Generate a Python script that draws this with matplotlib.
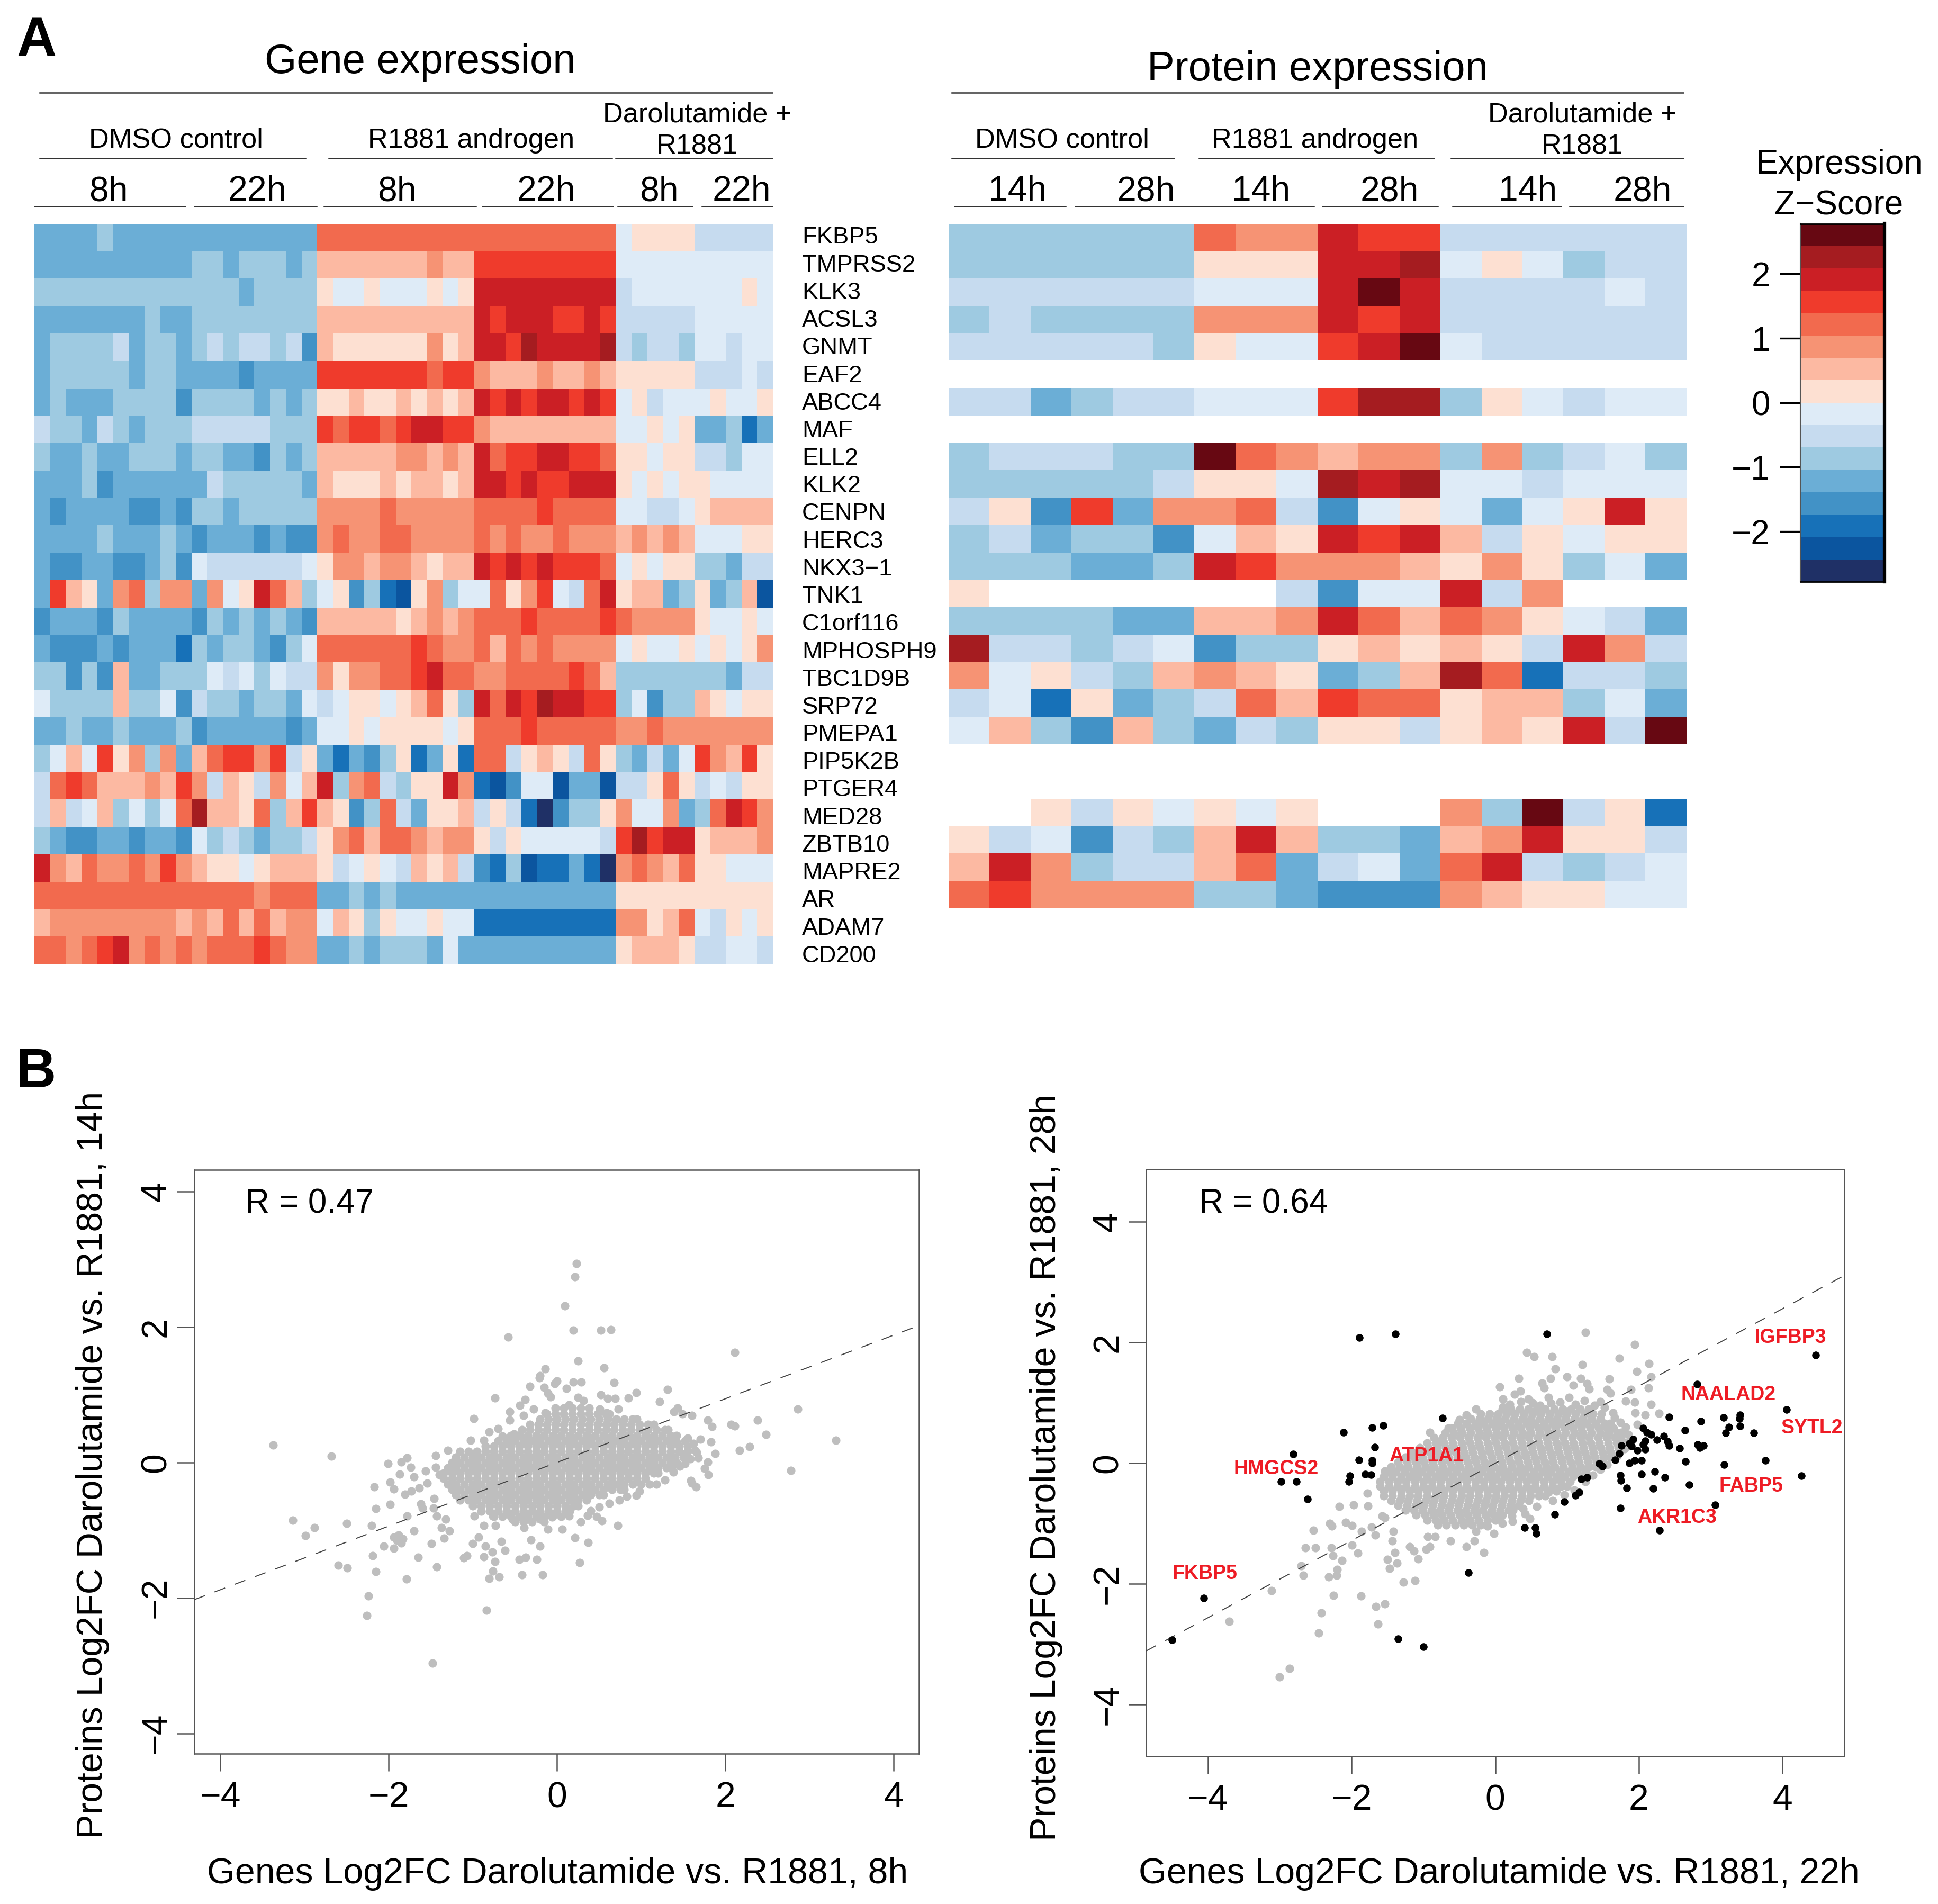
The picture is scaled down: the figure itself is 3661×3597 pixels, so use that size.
# coding=utf-8
# Heatmaps of gene / protein expression and the two log2FC scatter plots

import numpy as np
import matplotlib
matplotlib.use('Agg')
import matplotlib.pyplot as plt
from matplotlib.colors import ListedColormap, BoundaryNorm

plt.rcParams['font.family'] = ['Liberation Sans', 'DejaVu Sans']

W = 3661
H = 3597

palette = ['#1f3066', '#0b559f', '#1771b8', '#4292c6', '#6baed6', '#9ecae1', '#c6dbef', '#deebf7',
           '#fde0d2', '#fcb9a2', '#f69374', '#f26a4e', '#ef3b2c', '#cb1f25', '#a51c20', '#670812']

genes = ['FKBP5', 'TMPRSS2', 'KLK3', 'ACSL3', 'GNMT', 'EAF2', 'ABCC4', 'MAF', 'ELL2', 'KLK2', 'CENPN',
         'HERC3', 'NKX3\u22121', 'TNK1', 'C1orf116', 'MPHOSPH9', 'TBC1D9B', 'SRP72', 'PMEPA1', 'PIP5K2B',
         'PTGER4', 'MED28', 'ZBTB10', 'MAPRE2', 'AR', 'ADAM7', 'CD200']

# palette level of every cell, 0-f, '.' is a missing value
gene_levels = [
    '444454444444444444 bbbbbbbbbbbbbbbbbbb 7888866666',
    '444444444455455545 9999999a99ccccccccc 7777777777',
    '555555555555545555 8778777878ddddddddd 6777777787',
    '444444454455555555 9999999999dcdddccdc 6666677777',
    '455556455456566563 9888888a89ddcedddde 6566577677',
    '455555455444434444 cccccccbcca999a99a9 8888866676',
    '454445555355554545 8898898989dcdcddcdc 7867778778',
    '655465455566666555 cbccbcddcca99999999 7787844524',
    '544544555455443545 99999aa9a9dbccddccb 8878866577',
    '444534444446555554 9888989989ddcdccddd 8787887777',
    '434444334355455555 aaaabaaaaabbbbcbbbb 7766789999',
    '444454445434443433 abaabbaaaababaabaaa 9a9a977788',
    '433443345376666667 8aa9aa9899dcdcdcccb 7878855466',
    '4c984ab5aa4a78db95 7835218a577b8ac76bd 8994584591',
    '344435444435454543 9999989a9abbbcbbbbc baaaa87787',
    '433343444254554357 bbbbbbcbaab9babaaaa 787787878a',
    '553539445557675766 a8aabbcdbbaabbbbcb9 5555555466',
    '755559557365545547 6788789b85dbdceddcc 5735598788',
    '445445444534444434 7787888878bbbcbbbbb aabaaaaaaa',
    '5797c8a5a49bccac68 4243582482bb68986b8 54647ca9c8',
    '6bcb999a9ca6986a79 d5ab6588da213771441 668b867688',
    '696795757be998b59c 9835b64889686203558 a77a45bdca',
    '543344344375654556 8ab9bba9aa868777776 cecdd8999a',
    'da9baabaca98878999 8678769896325122420 aba9b88777',
    'bbbbbbbbbbbbbbabbb 4454544444444444444 8888888888',
    '9aaaaaaaa9a9b9b9aa 7985877877222222222 aa89b76878',
    'bbabcdabababbbcbaa 4454555474444444444 8999866776',
]

protein_levels = [
    '555555 baa dcc 666666',
    '555555 888 dde 787566',
    '666666 777 dfd 666676',
    '565555 aaa dcd 666666',
    '666665 877 cdf 766666',
    '...... ... ... ......',
    '664566 777 cee 587677',
    '...... ... ... ......',
    '566655 fba 9aa 5a5675',
    '555556 887 ede 776777',
    '683c4a ab6 378 747 8d8',
    '564553 798 dcd 968788',
    '555445 dca aa9 8a8574',
    '8..... ..6 377 d6a...',
    '555544 99a db9 ba8764',
    'e66567 355 898 986da6',
    'a78659 a98 459 eb2665',
    '672845 6b9 cbb 899574',
    '795395 465 886 898d6f',
    '...... ... ... ......',
    '...... ... ... ......',
    '..8687 878 ... a5f682',
    '867365 9d9 554 9ad886',
    '9da566 9b4 674 bd6567',
    'bcaaaa 554 333 a98877',
]

dmso_r1881_dar = ['DMSO control', 'R1881 androgen', 'Darolutamide +\nR1881']
colorbar_ticks = [2, 1, 0, -1, -2]
axis_ticks = [-4, -2, 0, 2, 4]

# panel B left, grey points read one by one: (genes, proteins)
left_outliers = [
    (.23, 2.94), (.21, 2.74), (.09, 2.31), (.19, 1.95), (.52, 1.95), (.64, 1.96), (-.58, 1.85), (2.11, 1.62),
    (.25, 1.50), (.56, 1.40), (-.14, 1.38), (-.20, 1.28), (-.21, 1.25), (0, 1.2), (-.03, 1.16), (.19, 1.19),
    (.29, 1.19), (.68, 1.18), (-.32, 1.12), (.11, 1.09), (1.31, 1.08), (-.15, 1.11), (.94, 1.03), (-.11, 1.02),
    (-.08, .97), (-.74, .95), (.85, .95), (.52, 1.0), (.60, .94), (.69, .94), (1.22, .90), (-.38, .93),
    (-.44, .84), (-.56, .75), (-.28, .79), (1.43, .80), (1.39, .75), (1.49, .72), (1.60, .69), (-.99, .65),
    (-.56, .62), (-.40, .69), (1.79, .62), (1.84, .53), (2.07, .56), (2.11, .54), (2.38, .62), (2.86, .79),
    (2.48, .41), (3.31, .33), (2.29, .23), (2.17, .18), (2.78, -.12), (1.83, .30), (1.88, .13), (1.66, .15),
    (1.79, .01), (1.75, -.09), (1.80, -.18), (1.59, -.27), (1.65, -.36), (1.60, -.31), (1.10, -.32),
    (.94, -.49), (.83, -.50), (.72, -.93), (.53, -.86), (.47, -.80), (.40, -.71), (.37, -1.18), (.21, -1.11),
    (.27, -1.48), (-.17, -1.66), (-.42, -1.66), (-.69, -1.69), (-.81, -1.71), (-.76, -1.60), (-.74, -1.46),
    (-.84, -2.18), (-1.48, -2.96), (-.45, -1.43), (-.37, -1.40), (-.24, -1.43), (-.20, -1.24), (-.31, -1.14),
    (-.62, -1.30), (-.77, -1.32), (-.87, -1.39), (-1.11, -1.41), (-1.07, -1.38), (-.85, -1.24), (-1.0, -1.20),
    (-.93, -1.10), (-.66, -1.17), (-1.43, -1.54), (-1.79, -1.72), (-2.15, -1.61), (-2.19, -1.38), (-2.24, -1.97),
    (-2.26, -2.26), (-2.49, -1.56), (-2.60, -1.52), (-2.06, -1.24), (-1.94, -1.27), (-1.65, -1.40), (-1.49, -1.20),
    (-1.34, -1.12), (-1.94, -1.10), (-1.88, -1.07), (-1.83, -1.13), (-1.85, -1.19), (-1.90, -1.15), (-1.70, -1.01),
    (-2.99, -1.08), (-2.88, -.96), (-3.14, -.85), (-2.50, -.90), (-2.20, -.93), (-2.15, -.68), (-1.98, -.62),
    (-2.17, -.36), (-1.94, -.39), (-1.81, -.47), (-1.98, -.29), (-1.87, -.17), (-2.01, -.02), (-1.85, .01),
    (-1.78, .07), (-1.74, -.07), (-1.70, -.21), (-1.73, -.42), (-1.64, -.38), (-1.54, -.31), (-1.56, -.13),
    (-1.44, .10), (-1.30, .18), (-1.44, -.07), (-1.40, -.18), (-3.37, .26), (-2.68, .09), (-1.78, -.79),
    (-1.62, -.61), (-1.46, -.53), (-1.47, -.67), (-1.43, -.79), (-1.32, -.84), (-1.37, -.96), (-1.28, -1.01),
    (-1.60, -.67), (-.98, -.79), (-.87, -.93), (-.73, -.93), (-.53, -.84), (-.39, -.96), (-.20, -.84), (-.11, -.99),
    (.06, -.99), (.14, -.79), (-.06, -.81), (-.37, -.79), (-.76, -.79), (.25, .96), (.14, .85), (.31, .91),
    (.51, .79), (.59, .73), (.73, .79), (-.14, .73), (-.81, .45), (-.70, .50), (-.87, .33), (-1.03, .33),
    (-.51, .42), (-.65, .39), (-1.15, .16), (-.98, .13),
    (1.42, .30), (1.55, .36), (1.62, .28), (1.50, .12), (1.58, .05), (1.46, -.06), (1.38, -.14), (1.52, -.02),
    (1.28, -.26), (1.18, -.32), (1.64, .18), (1.70, .34), (1.36, -.08), (1.68, .07), (.98, -.42), (.74, -.56),
    (.62, -.60), (.50, -.66), (.36, -.78), (.28, -.88),
]

# dense part of the left cloud, estimated along rows: (proteins, [genes])
left_core = [
    (.80, [-.02, .08, .18, .28, .38]),
    (.72, [-.12, -.02, .08, .18, .28, .38, .48, .58, .62]),
    (.64, [-.20, -.10, 0, .10, .20, .30, .40, .50, .60, .70, .80, .90, .95]),
    (.56, [-.32, -.22, -.12, -.02, .08, .18, .28, .38, .48, .58, .68, .78, .88, .98, 1.08, 1.15]),
    (.48, [-.42, -.32, -.22, -.12, -.02, .08, .18, .28, .38, .48, .58, .68, .78, .88, .98, 1.08, 1.18, 1.28, 1.32]),
    (.40, [-.55, -.45, -.35, -.25, -.15, -.05, .05, .15, .25, .35, .45, .55, .65, .75, .85, .95, 1.05, 1.15, 1.25, 1.35, 1.42]),
    (.32, [-.70, -.60, -.50, -.40, -.30, -.20, -.10, 0, .10, .20, .30, .40, .50, .60, .70, .80, .90, 1.00, 1.10, 1.20, 1.30, 1.40, 1.52]),
    (.24, [-.85, -.75, -.65, -.55, -.45, -.35, -.25, -.15, -.05, .05, .15, .25, .35, .45, .55, .65, .75, .85, .95, 1.05, 1.15, 1.25, 1.35, 1.45, 1.55]),
    (.16, [-1.05, -.95, -.85, -.75, -.65, -.55, -.45, -.35, -.25, -.15, -.05, .05, .15, .25, .35, .45, .55, .65, .75, .85, .95, 1.05, 1.15, 1.25, 1.35, 1.45, 1.55]),
    (.08, [-1.20, -1.10, -1.00, -.90, -.80, -.70, -.60, -.50, -.40, -.30, -.20, -.10, 0, .10, .20, .30, .40, .50, .60, .70, .80, .90, 1.00, 1.10, 1.20, 1.30, 1.40, 1.50]),
    (0, [-1.25, -1.15, -1.05, -.95, -.85, -.75, -.65, -.55, -.45, -.35, -.25, -.15, -.05, .05, .15, .25, .35, .45, .55, .65, .75, .85, .95, 1.05, 1.15, 1.25, 1.35, 1.42]),
    (-.08, [-1.30, -1.20, -1.10, -1.00, -.90, -.80, -.70, -.60, -.50, -.40, -.30, -.20, -.10, 0, .10, .20, .30, .40, .50, .60, .70, .80, .90, 1.00, 1.10, 1.20, 1.30]),
    (-.16, [-1.35, -1.25, -1.15, -1.05, -.95, -.85, -.75, -.65, -.55, -.45, -.35, -.25, -.15, -.05, .05, .15, .25, .35, .45, .55, .65, .75, .85, .95, 1.05, 1.15, 1.20]),
    (-.24, [-1.35, -1.25, -1.15, -1.05, -.95, -.85, -.75, -.65, -.55, -.45, -.35, -.25, -.15, -.05, .05, .15, .25, .35, .45, .55, .65, .75, .85, .95, 1.05]),
    (-.32, [-1.30, -1.20, -1.10, -1.00, -.90, -.80, -.70, -.60, -.50, -.40, -.30, -.20, -.10, 0, .10, .20, .30, .40, .50, .60, .70, .80, .90, 1.00]),
    (-.40, [-1.25, -1.15, -1.05, -.95, -.85, -.75, -.65, -.55, -.45, -.35, -.25, -.15, -.05, .05, .15, .25, .35, .45, .55, .65, .75, .80]),
    (-.48, [-1.20, -1.10, -1.00, -.90, -.80, -.70, -.60, -.50, -.40, -.30, -.20, -.10, 0, .10, .20, .30, .40, .50, .55]),
    (-.56, [-1.15, -1.05, -.95, -.85, -.75, -.65, -.55, -.45, -.35, -.25, -.15, -.05, .05, .15, .25, .35]),
    (-.64, [-1.00, -.90, -.80, -.70, -.60, -.50, -.40, -.30, -.20, -.10, 0, .10, .20, .25]),
    (-.72, [-.90, -.80, -.70, -.60, -.50, -.40, -.30, -.20, -.10, 0, .10, .15]),
    (-.80, [-.75, -.65, -.55, -.45, -.35, -.25, -.15, -.05, .05]),
    (-.88, [-.50, -.40, -.30, -.15]),
]

# panel B right, grey points read one by one
right_outliers = [
    (1.26, 2.17), (1.94, 1.97), (.44, 1.84), (.54, 1.77), (.79, 1.77), (1.73, 1.74), (2.14, 1.65), (1.21, 1.63),
    (1.97, 1.52), (.84, 1.56), (.33, 1.41), (.06, 1.27), (.65, 1.33), (.77, 1.41), (1.0, 1.43), (1.19, 1.41),
    (1.59, 1.40), (2.17, 1.43), (2.13, 1.25), (1.89, 1.22), (1.56, 1.22), (1.60, 1.16), (.35, 1.20), (.27, 1.14),
    (.68, 1.25), (1.09, 1.29), (1.28, 1.32), (1.31, 1.23), (1.82, 1.03), (1.94, 1.01), (2.17, .98), (1.64, .84),
    (1.95, .84), (2.09, .80), (2.28, .83), (1.98, .64), (1.76, .51), (1.85, .48), (.11, 1.06), (.46, 1.06),
    (.74, 1.09), (1.03, 1.09), (-.27, .90), (-.40, .80), (.11, .93), (-.50, .72), (-.65, .58), (-.91, .51),
    (-.78, .35), (1.38, .96), (-1.54, -.13), (-1.78, -.50), (-2.17, -.72), (-1.97, -.69), (-1.77, -.71),
    (-2.30, -1.0), (-2.27, -1.04), (-2.08, -.98), (-1.99, -1.03), (-1.86, -1.13), (-2.53, -1.11), (-1.72, -1.06),
    (-1.67, -1.19), (-1.57, -.87), (-1.54, -.90), (-1.42, -1.13), (-1.43, -1.29), (-2.64, -1.40), (-2.50, -1.40),
    (-2.28, -1.40), (-1.99, -1.36), (-1.91, -1.49), (-2.26, -1.53), (-2.13, -1.61), (-2.20, -1.76), (-2.70, -1.70),
    (-2.67, -1.86), (-2.32, -1.88), (-2.21, -1.86), (-3.11, -2.11), (-3.70, -2.62), (-2.25, -2.19), (-1.87, -2.20),
    (-2.42, -2.48), (-1.66, -2.37), (-1.54, -2.33), (-1.63, -2.66), (-2.46, -2.81), (-2.86, -3.40), (-3.00, -3.54),
    (-1.40, -1.48), (-1.50, -1.59), (-1.37, -1.65), (-1.47, -1.74), (-1.19, -1.38), (-1.13, -1.45), (-1.07, -1.58),
    (-.96, -1.43), (-.91, -1.38), (-1.28, -1.97), (-1.12, -1.94), (-.94, -1.22), (-.84, -1.22), (-.62, -1.29),
    (-.40, -1.38), (-.29, -1.29), (-.16, -1.48), (-.27, -1.13), (-.02, -1.16), (-.11, -1.04), (.08, -.89),
    (.23, -.87), (.48, -.92), (.39, -.75), (.74, -.48),
    (.20, .98), (.36, 1.02), (.52, 1.00), (.62, .96), (.78, .99), (.90, 1.01), (1.12, .98), (1.24, 1.04),
    (1.46, 1.02), (1.52, .92), (1.66, .76), (1.74, .68), (1.82, .60), (1.88, .40), (1.80, .24), (1.70, .12),
    (1.56, -.02), (1.46, -.10), (1.36, -.20), (1.26, -.30), (1.10, -.44), (.96, -.52), (.80, -.62), (.58, -.72),
    (.42, -.84), (.24, -.96), (.10, -1.00),
]

# dense part of the right cloud, estimated along rows
right_core = [
    (.90, [.10, .22, .34, .46, .58, .70, .82, .94, 1.06, 1.18, 1.30]),
    (.82, [-.20, -.08, .04, .16, .28, .40, .52, .64, .76, .88, 1.00, 1.12, 1.24, 1.36, 1.48]),
    (.74, [-.34, -.22, -.10, .02, .14, .26, .38, .50, .62, .74, .86, .98, 1.10, 1.22, 1.34, 1.46]),
    (.66, [-.52, -.40, -.28, -.16, -.04, .08, .20, .32, .44, .56, .68, .80, .92, 1.04, 1.16, 1.28, 1.40, 1.52, 1.60]),
    (.58, [-.60, -.48, -.36, -.24, -.12, 0, .12, .24, .36, .48, .60, .72, .84, .96, 1.08, 1.20, 1.32, 1.44, 1.56, 1.65]),
    (.50, [-.70, -.58, -.46, -.34, -.22, -.10, .02, .14, .26, .38, .50, .62, .74, .86, .98, 1.10, 1.22, 1.34, 1.46, 1.58, 1.70]),
    (.42, [-.85, -.73, -.61, -.49, -.37, -.25, -.13, -.01, .11, .23, .35, .47, .59, .71, .83, .95, 1.07, 1.19, 1.31, 1.43, 1.55, 1.67, 1.75]),
    (.34, [-.95, -.83, -.71, -.59, -.47, -.35, -.23, -.11, .01, .13, .25, .37, .49, .61, .73, .85, .97, 1.09, 1.21, 1.33, 1.45, 1.57, 1.69, 1.80]),
    (.26, [-1.05, -.93, -.81, -.69, -.57, -.45, -.33, -.21, -.09, .03, .15, .27, .39, .51, .63, .75, .87, .99, 1.11, 1.23, 1.35, 1.47, 1.59, 1.71]),
    (.18, [-1.15, -1.03, -.91, -.79, -.67, -.55, -.43, -.31, -.19, -.07, .05, .17, .29, .41, .53, .65, .77, .89, 1.01, 1.13, 1.25, 1.37, 1.49, 1.61]),
    (.10, [-1.25, -1.13, -1.01, -.89, -.77, -.65, -.53, -.41, -.29, -.17, -.05, .07, .19, .31, .43, .55, .67, .79, .91, 1.03, 1.15, 1.27, 1.39, 1.51, 1.60]),
    (.02, [-1.35, -1.23, -1.11, -.99, -.87, -.75, -.63, -.51, -.39, -.27, -.15, -.03, .09, .21, .33, .45, .57, .69, .81, .93, 1.05, 1.17, 1.29, 1.41, 1.50]),
    (-.06, [-1.45, -1.33, -1.21, -1.09, -.97, -.85, -.73, -.61, -.49, -.37, -.25, -.13, -.01, .11, .23, .35, .47, .59, .71, .83, .95, 1.07, 1.19, 1.31, 1.40]),
    (-.14, [-1.50, -1.38, -1.26, -1.14, -1.02, -.90, -.78, -.66, -.54, -.42, -.30, -.18, -.06, .06, .18, .30, .42, .54, .66, .78, .90, 1.02, 1.14, 1.26]),
    (-.22, [-1.55, -1.43, -1.31, -1.19, -1.07, -.95, -.83, -.71, -.59, -.47, -.35, -.23, -.11, .01, .13, .25, .37, .49, .61, .73, .85, .97, 1.09, 1.20]),
    (-.30, [-1.60, -1.48, -1.36, -1.24, -1.12, -1.00, -.88, -.76, -.64, -.52, -.40, -.28, -.16, -.04, .08, .20, .32, .44, .56, .68, .80, .92, 1.04]),
    (-.38, [-1.60, -1.48, -1.36, -1.24, -1.12, -1.00, -.88, -.76, -.64, -.52, -.40, -.28, -.16, -.04, .08, .20, .32, .44, .56, .68, .80, .92, 1.00]),
    (-.46, [-1.55, -1.43, -1.31, -1.19, -1.07, -.95, -.83, -.71, -.59, -.47, -.35, -.23, -.11, .01, .13, .25, .37, .49, .61, .73, .85]),
    (-.54, [-1.55, -1.43, -1.31, -1.19, -1.07, -.95, -.83, -.71, -.59, -.47, -.35, -.23, -.11, .01, .13, .25, .37, .49, .61, .70]),
    (-.62, [-1.45, -1.33, -1.21, -1.09, -.97, -.85, -.73, -.61, -.49, -.37, -.25, -.13, -.01, .11, .23, .35, .47]),
    (-.70, [-1.35, -1.23, -1.11, -.99, -.87, -.75, -.63, -.51, -.39, -.27, -.15, -.03, .09, .21, .33]),
    (-.78, [-1.25, -1.13, -1.01, -.89, -.77, -.65, -.53, -.41, -.29, -.17, -.05, .07, .19, .25]),
    (-.86, [-1.10, -.98, -.86, -.74, -.62, -.50, -.38, -.26, -.14, -.02, .10]),
    (-.94, [-.95, -.83, -.71, -.59, -.47, -.35, -.23, -.11, 0]),
    (-1.02, [-.80, -.68, -.56, -.44, -.32, -.20]),
]

# black points of the right panel
right_black = [
    (-1.89, 2.08), (-1.39, 2.14), (.72, 2.14), (2.81, 1.31), (4.46, 1.79), (4.06, .89), (2.42, .77), (2.86, .70),
    (3.18, .76), (3.41, .80), (3.40, .74), (3.41, .62), (3.25, .60), (3.21, .50), (3.60, .50), (2.64, .55),
    (2.42, .29), (2.57, .25), (2.82, .31), (2.85, .26), (2.90, .29), (2.35, .45), (2.40, .36), (2.25, .39),
    (2.17, .48), (2.11, .51), (2.06, .58), (2.09, .37), (2.06, .31), (2.09, .23), (1.92, .40), (1.87, .33),
    (1.76, .29), (1.90, .28), (1.98, .21), (1.73, .16), (1.67, .06), (1.94, .05), (1.87, 0), (2.04, .05),
    (2.65, .03), (3.19, -.02), (3.76, .05), (4.26, -.21), (2.04, -.18), (2.22, -.14), (2.36, -.23), (2.70, -.36),
    (2.20, -.42), (1.83, -.41), (1.75, -.29), (1.74, -.20), (3.06, -.69), (1.74, -.74), (2.29, -1.11), (1.49, -.05),
    (1.45, -.01), (1.28, -.23), (1.20, -.26), (1.17, -.48), (1.12, -.53), (.96, -.64), (.83, -.85), (.41, -1.07),
    (.56, -1.07), (.57, -1.16), (-.37, -1.81), (-1.35, -2.91), (-1.0, -3.04), (-4.06, -2.23), (-4.50, -2.93),
    (-.73, .75), (-1.56, .63), (-1.71, .59), (-2.11, .51), (-1.68, .27), (-1.90, .06), (-1.71, .05), (-1.71, 0),
    (-2.81, .15), (-2.98, -.30), (-2.77, -.30), (-2.61, -.59), (-2.02, -.21), (-2.04, -.30), (-1.81, -.18), (-1.73, -.19),
]

label_names = ['IGFBP3', 'NAALAD2', 'SYTL2', 'FABP5', 'AKR1C3', 'ATP1A1', 'HMGCS2', 'FKBP5']
label_x = [4.11, 3.25, 4.41, 3.56, 2.53, -.96, -3.05, -4.04]
label_y = [2.08, 1.13, .58, -.38, -.90, .12, -.09, -1.83]

r_left = 0.47
r_right = 0.64


def add_axes(fig, left, top, right, bottom):
    return fig.add_axes([left / W, 1 - bottom / H, (right - left) / W, (bottom - top) / H])


def to_matrix(rows):
    m = []
    for row in rows:
        cells = row.replace(' ', '')
        m.append([np.nan if c == '.' else int(c, 16) for c in cells])
    return np.array(m, dtype=float)


def draw_heatmap(fig, rows, left, top, right, bottom, cmap, norm):
    ax = add_axes(fig, left, top, right, bottom)
    ax.imshow(to_matrix(rows), cmap=cmap, norm=norm, aspect='auto', interpolation='nearest')
    ax.axis('off')
    return ax


def expand(outliers, core):
    xs = [p[0] for p in outliers]
    ys = [p[1] for p in outliers]
    for y, row in core:
        xs.extend(row)
        ys.extend([y] * len(row))
    return xs, ys


def draw_scatter(fig, box, xs, ys, slope, xlim, ylim):
    ax = add_axes(fig, *box)
    ax.scatter(xs, ys, s=135, color='#bebebe', linewidths=0, zorder=2)
    ax.axline((0, 0), slope=slope, color='#444444', lw=1.4, dashes=(11, 10), zorder=3)
    ax.set_xlim(xlim)
    ax.set_ylim(ylim)
    ax.set_xticks(axis_ticks)
    ax.set_yticks(axis_ticks)
    ax.tick_params(length=24, width=1.8, color='#555555', labelsize=49)
    ax.tick_params(axis='x', pad=13)
    ax.tick_params(axis='y', pad=5)
    for lab in ax.get_yticklabels():
        lab.set_rotation(90)
        lab.set_va('center')
    for sp in ax.spines.values():
        sp.set_color('#555555')
        sp.set_linewidth(1.8)
    return ax


def main():
    fig = plt.figure(figsize=(W / 100, H / 100), dpi=100)

    # whole-figure layer in pixels for headers and lines, kept above the panels
    page = fig.add_axes([0, 0, 1, 1])
    page.set_xlim(0, W)
    page.set_ylim(H, 0)
    page.axis('off')
    page.set_zorder(10)

    cmap = ListedColormap(palette)
    cmap.set_bad('white')
    norm = BoundaryNorm(np.arange(-0.5, 16.5), 16)

    draw_heatmap(fig, gene_levels, 65, 424, 1459, 1821, cmap, norm)
    draw_heatmap(fig, protein_levels, 1792, 423, 3186, 1716, cmap, norm)

    for i, g in enumerate(genes):
        page.text(1515, 449 + i * 52.2, g, fontsize=32.7, ha='left', va='center')

    page.text(31, 79, 'A', fontsize=75, fontweight='bold', ha='left', va='center')
    page.text(31, 2027, 'B', fontsize=75, fontweight='bold', ha='left', va='center')

    page.text(794, 117, 'Gene expression', fontsize=56, ha='center', va='center')
    page.text(2489, 131, 'Protein expression', fontsize=56, ha='center', va='center')
    page.plot([75, 1459], [175, 175], color='#333333', lw=1.8)
    page.plot([1798, 3180], [175, 175], color='#333333', lw=1.8)

    # group headers: centre x, line start, line end
    gene_groups = [(332, 75, 577), (890, 621, 1156), (1317, 1163, 1459)]
    prot_groups = [(2006, 1798, 2218), (2484, 2265, 2709), (2989, 2741, 3180)]
    for groups in (gene_groups, prot_groups):
        for name, (cx, x0, x1) in zip(dmso_r1881_dar, groups):
            cy = 247 if '\n' in name else 265
            page.text(cx, cy, name, fontsize=37.7, ha='center', va='center', linespacing=1.3)
            page.plot([x0, x1], [299, 299], color='#333333', lw=1.8)

    gene_times = [('8h', 205, 65, 350), ('22h', 486, 367, 598), ('8h', 750, 612, 899),
                  ('22h', 1032, 911, 1158), ('8h', 1245, 1167, 1308), ('22h', 1401, 1326, 1459)]
    prot_times = [('14h', 1922, 1803, 2013), ('28h', 2165, 2031, 2300), ('14h', 2382, 2270, 2482),
                  ('28h', 2625, 2498, 2716), ('14h', 2886, 2744, 2949), ('28h', 3103, 2965, 3180)]
    for name, cx, x0, x1 in gene_times + prot_times:
        page.text(cx, 362, name, fontsize=47.5, ha='center', va='center')
        page.plot([x0, x1], [390, 390], color='#333333', lw=1.8)

    # colour key
    key = add_axes(fig, 3401, 422.5, 3560, 1099)
    bounds = np.linspace(-2.78, 2.78, 17)
    key.pcolormesh([0, 1], bounds, np.arange(16).reshape(-1, 1), cmap=cmap, norm=norm)
    key.set_xticks([])
    key.set_yticks(colorbar_ticks)
    key.set_yticklabels([str(t).replace('-', '\u2212') for t in colorbar_ticks])
    key.tick_params(axis='y', length=28, width=2.4, labelsize=46, pad=13)
    key.spines['left'].set_linewidth(1.5)
    key.spines['left'].set_color('#555555')
    key.spines['right'].set_linewidth(4.5)
    key.spines['top'].set_linewidth(2)
    key.spines['bottom'].set_linewidth(2)
    page.text(3475, 311, 'Expression', fontsize=46, ha='center', va='center')
    page.text(3474, 388, 'Z\u2212Score', fontsize=46, ha='center', va='center')

    # scatter panels
    lx, ly = expand(left_outliers, left_core)
    draw_scatter(fig, (367, 2210, 1736, 3313), lx, ly, r_left, (-4.31, 4.30), (-4.30, 4.32))
    page.text(463, 2274, 'R = 0.47', fontsize=46, ha='left', va='center')
    page.text(1053, 3540, 'Genes Log2FC Darolutamide vs. R1881, 8h', fontsize=49, ha='center', va='center')
    page.text(175, 2767, 'Proteins Log2FC Darolutamide vs. R1881, 14h', fontsize=49, rotation=90,
              ha='center', va='center')

    rx, ry = expand(right_outliers, right_core)
    ax = draw_scatter(fig, (2165, 2209, 3484, 3318), rx, ry, r_right, (-4.86, 4.86), (-4.855, 4.87))
    ax.scatter([p[0] for p in right_black], [p[1] for p in right_black], s=110, color='black', linewidths=0, zorder=4)
    for name, x, y in zip(label_names, label_x, label_y):
        ax.text(x, y, name, color='#ee1c25', fontsize=27, fontweight='bold', ha='center', va='center', zorder=5)
    page.text(2265, 2274, 'R = 0.64', fontsize=46, ha='left', va='center')
    page.text(2832, 3540, 'Genes Log2FC Darolutamide vs. R1881, 22h', fontsize=49, ha='center', va='center')
    page.text(1976, 2772, 'Proteins Log2FC Darolutamide vs. R1881, 28h', fontsize=49, rotation=90,
              ha='center', va='center')

    fig.savefig('out.png', dpi=100)


if __name__ == "__main__":
    main()
